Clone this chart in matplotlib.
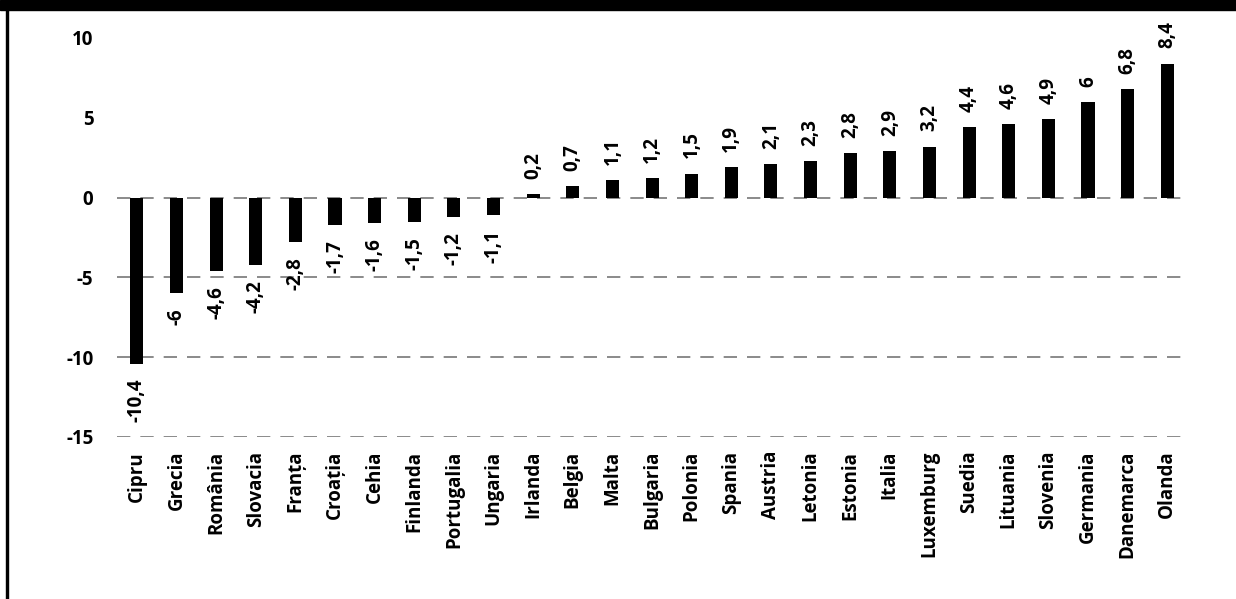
import matplotlib.pyplot as plt
from matplotlib.patches import Rectangle

# data
countries = ["Cipru", "Grecia", "România", "Slovacia", "Franța", "Croația", "Cehia",
             "Finlanda", "Portugalia", "Ungaria", "Irlanda", "Belgia", "Malta", "Bulgaria",
             "Polonia", "Spania", "Austria", "Letonia", "Estonia", "Italia", "Luxemburg",
             "Suedia", "Lituania", "Slovenia", "Germania", "Danemarca", "Olanda"]
values = [-10.4, -6, -4.6, -4.2, -2.8, -1.7, -1.6, -1.5, -1.2, -1.1, 0.2, 0.7, 1.1, 1.2,
          1.5, 1.9, 2.1, 2.3, 2.8, 2.9, 3.2, 4.4, 4.6, 4.9, 6, 6.8, 8.4]
yticks = [10, 5, 0, -5, -10, -15]

plt.rcParams["font.family"] = ["Open Sans", "DejaVu Sans"]
plt.rcParams["font.weight"] = "bold"

fig = plt.figure(figsize=(12.36, 5.99), dpi=100)
ax = fig.add_axes([0.0947, 0.2705, 0.8657, 0.6661])

x = range(len(countries))
ax.bar(x, values, width=0.33, color="black", zorder=3)

# broken gray gridlines as seen in the scan (only the lower ones survive)
for t in yticks:
    if t <= 0:
        ax.axhline(t, color="#777777", linewidth=1.2, linestyle=(0, (8, 6)), zorder=1)


def fmt(v):
    s = f"{v:g}"
    return s.replace(".", ",")


for i, v in enumerate(values):
    off = 11 if v >= 0 else -11
    ax.annotate(fmt(v), (i, v), xytext=(0, off), textcoords="offset points",
                rotation=90, ha="center", va="bottom" if v >= 0 else "top",
                fontsize=13.5, fontweight="bold", annotation_clip=False)

ax.set_xlim(-0.5, len(countries) - 0.5)
ax.set_ylim(-15, 10)
ax.set_yticks(yticks)
ax.set_yticklabels([str(t) for t in yticks], fontsize=13.5, fontweight="bold")
ax.set_xticks(list(x))
ax.set_xticklabels(countries, rotation=90, fontsize=13.5, fontweight="bold")
ax.tick_params(axis="y", length=0, pad=17)
ax.tick_params(axis="x", length=0, pad=10)
for s in ax.spines.values():
    s.set_visible(False)

# frame of the scanned page: black band on top, thin line on the left
fig.patches.append(Rectangle((0, 1 - 10 / 599), 1, 10 / 599, transform=fig.transFigure,
                             color="black", zorder=10))
fig.patches.append(Rectangle((6 / 1236, 0), 2 / 1236, 1 - 10 / 599, transform=fig.transFigure,
                             color="black", zorder=10))

fig.savefig("out.png", dpi=100)
